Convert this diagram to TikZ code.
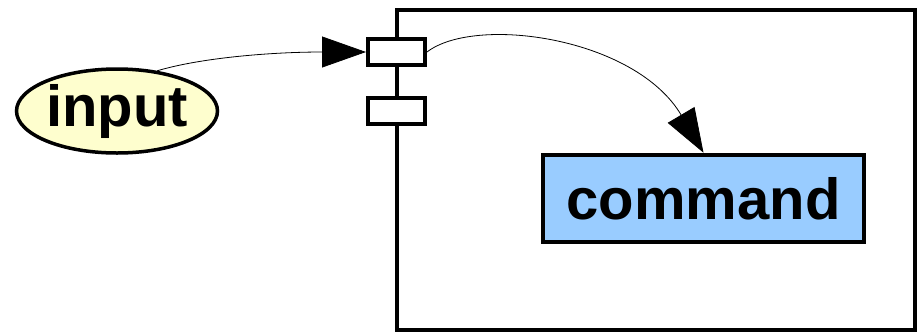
\documentclass[tikz,border=0pt]{standalone}
\usepackage{fontspec}
\setmainfont{Liberation Sans}
\usepackage{tikz}
\usepackage{xcolor}
\usetikzlibrary{shapes,arrows.meta,positioning,fit,calc}

\definecolor{inputyellow}{HTML}{FEFECE}
\definecolor{cmdblue}{HTML}{99CCFF}

\tikzset{
    bigtext/.style={font=\fontsize{58}{60}\selectfont\bfseries},
    port/.style={draw=black, line width=4pt, fill=white, minimum width=57pt, minimum height=26pt, inner sep=0pt},
    flow/.style={black, line width=0.8pt, -{Triangle[length=44pt, width=31pt]}}
}

\begin{document}
\begin{tikzpicture}[x=1pt, y=-1pt]
        \useasboundingbox (0,0) rectangle (923,333);
        % component frame
        \draw[black, line width=4.5pt] (397,10) rectangle (915,330);
        \node[port] (inport) at (396.5,52) {};
        \node[port] (outport) at (396.5,110.5) {};
        % input and command
        \node[ellipse, draw=black, line width=3.5pt, fill=inputyellow, bigtext, minimum width=201pt, minimum height=84pt, inner sep=0pt] (input) at (117,111) {input};
        \node[rectangle, draw=black, line width=4.5pt, fill=cmdblue, bigtext, minimum width=321pt, minimum height=87pt, inner sep=0pt] (command) at (703.5,198.5) {command};
        \draw[flow] (input.45) .. controls (200,58) and (270,52) .. (inport.west);
        \draw[flow] (inport.east) .. controls (475,15) and (635,37) .. (command.north);
    \end{tikzpicture}
\end{document}
